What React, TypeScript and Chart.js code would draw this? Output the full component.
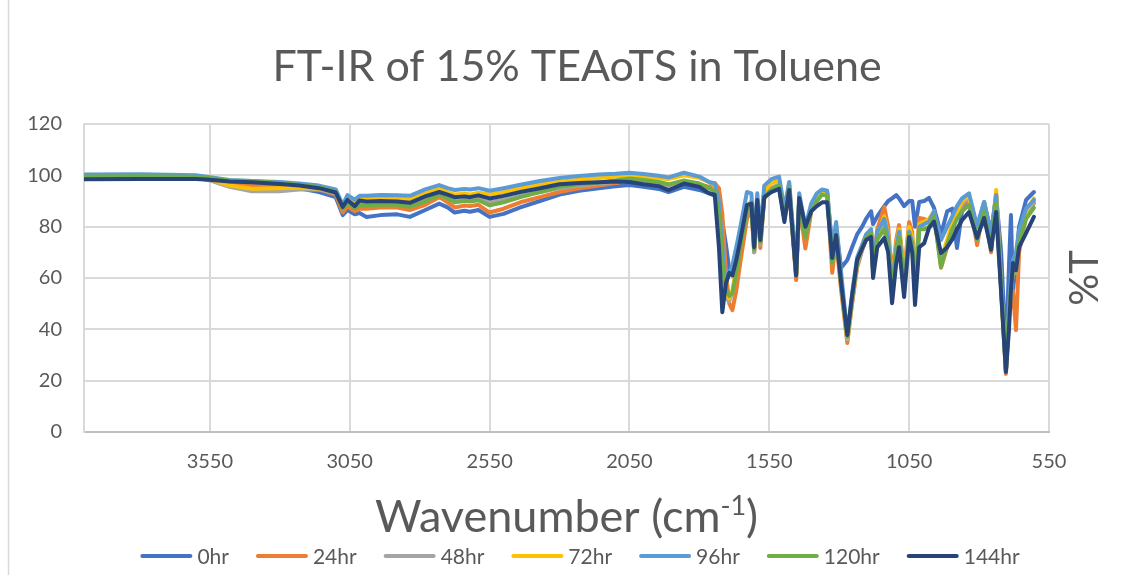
import React, { useEffect, useRef } from 'react';
import { Chart, registerables } from 'chart.js';

Chart.register(...registerables);

const TITLE = 'FT-IR of 15% TEAoTS in Toluene';
const X_TITLE_MAIN = 'Wavenumber (cm';
const X_TITLE_SUP = '-1';
const X_TITLE_END = ')';
const Y_TITLE = '%T';
const X_TICKS = [3550, 3050, 2550, 2050, 1550, 1050, 550];
const X_MIN = 550;
const X_MAX = 4000;
const Y_MIN = 0;
const Y_MAX = 120;
const Y_STEP = 20;

const SERIES_NAMES = ['0hr', '24hr', '48hr', '72hr', '96hr', '120hr', '144hr'];
const SERIES_COLORS = ['#4472C4', '#ED7D31', '#A5A5A5', '#FFC000', '#5B9BD5', '#70AD47', '#264478'];

const WAVENUMBERS = [
  4000, 3800, 3600, 3550, 3480, 3400, 3300, 3230, 3160, 3100,
  3075, 3058, 3032, 3015, 2990, 2940, 2880, 2835, 2780, 2730,
  2700, 2675, 2640, 2620, 2590, 2550, 2500, 2440, 2370, 2300,
  2230, 2160, 2100, 2050, 2000, 1945, 1910, 1855, 1800, 1765,
  1745, 1730, 1718, 1705, 1693, 1682, 1668, 1655, 1630, 1614,
  1604, 1593, 1582, 1568, 1543, 1515, 1496, 1479, 1454, 1443,
  1421, 1400, 1380, 1361, 1343, 1325, 1311, 1293, 1271, 1254,
  1236, 1218, 1204, 1186, 1179, 1164, 1139, 1125, 1111, 1096,
  1086, 1068, 1050, 1039, 1029, 1014, 996, 979, 961, 936,
  914, 896, 879, 861, 836, 807, 782, 757, 739, 721,
  704, 693, 686, 679, 668, 657, 632, 604,
];

const T_0HR = [
  99, 99, 99, 98.8, 97.5, 96.8, 96, 95, 93.5, 91.5,
  84.5, 86.5, 84.8, 85.3, 83.8, 84.5, 84.8, 83.8, 86.5, 89,
  87.5, 85.5, 86.2, 85.8, 86.5, 83.8, 85, 87.5, 90, 92.5,
  94, 95, 95.7, 96.2, 95.5, 94.7, 93.5, 95.5, 94.3, 93,
  92, 88, 82, 73, 63, 64, 70, 76, 86, 88,
  74, 90, 78, 92, 94, 95.5, 84, 95, 62, 90,
  78, 88, 91, 93.5, 93, 72, 78, 64, 67, 72,
  77, 80, 83, 86, 81, 84, 88, 90, 91, 92.3,
  91, 88, 90, 90, 80, 89.6, 90, 91.2, 87.3, 77,
  86, 87, 71.7, 86, 92, 80, 89.6, 77.5, 92, 70,
  30, 65, 84.5, 55, 66, 80, 90.4, 93.5,
];

const T_24HR = [
  99, 99, 99, 98.5, 97, 96, 95.5, 95, 94.5, 92.5,
  85.5, 88, 86, 87, 87, 87.5, 87.5, 86.5, 88.5, 91.5,
  89.5, 87.5, 88.2, 88, 88.5, 85.5, 87, 89.5, 91.5, 93.5,
  95, 96, 97, 98, 97.5, 96.5, 95.5, 97.5, 96.5, 95.5,
  97, 95, 85, 62, 50, 47.5, 55, 65, 83, 87,
  70, 89, 71.7, 91, 94.5, 96, 83, 95, 59.2, 89,
  71.5, 86, 90, 93, 93, 62, 75, 55, 34.7, 50,
  64, 71, 75, 78, 63, 79, 87.7, 80, 60, 75,
  80.6, 62, 81.8, 78, 58, 83.4, 83, 82, 85, 64,
  72, 79, 84, 88, 91, 72.8, 88, 70, 92, 55,
  22.6, 45, 50, 55, 39.7, 70, 84, 89,
];

const T_48HR = [
  99.5, 99.5, 99, 98, 95.5, 93.8, 93.8, 94.5, 94.5, 93,
  87.5, 89.5, 87.5, 89, 88.8, 89, 89, 88, 90.3, 92.5,
  91, 90, 90.5, 90.5, 91, 89.5, 90.5, 92, 93.5, 95,
  96, 96.8, 97.5, 98.2, 97.5, 96.8, 95.8, 97.5, 96.3, 95,
  94, 86, 65, 52, 51, 54, 63, 72, 86, 88,
  70, 90, 73, 92, 95, 96.5, 84, 96, 61, 91,
  76, 87, 91, 93.5, 93, 66, 78, 57, 36, 51,
  65, 71, 75, 77.5, 63, 77, 81, 76, 57, 72,
  78, 60, 79, 75, 56, 80, 81, 82, 85, 66,
  74, 80, 85, 89, 91.5, 75, 89, 72, 93, 56,
  23.5, 45, 55, 62, 62, 75, 85, 89.5,
];

const T_72HR = [
  99.5, 99.5, 99.3, 98.5, 96, 94.8, 95, 95.3, 94.8, 93.5,
  88, 91, 89, 91.2, 91.3, 91.5, 91.2, 90.5, 93, 95,
  93.5, 92.5, 92.8, 92.5, 93.2, 92.5, 93.5, 95, 96.5, 97.5,
  98.3, 99, 99.5, 100, 99.4, 99, 98.5, 100, 99, 97.3,
  96.5, 88, 68, 54, 52, 55, 64, 73, 88, 90,
  72, 91, 75, 94, 97, 98, 85, 97, 62, 92,
  78, 88, 92, 94, 93.5, 68, 80, 58, 36.6, 52,
  66, 72, 76, 78, 63, 77, 84, 77, 58, 73,
  79, 61, 80, 76, 57, 81, 82, 83, 86, 67,
  75, 81, 86, 90, 92, 76, 89.5, 73, 94.3, 57,
  24, 45, 55, 63, 64, 76, 86, 91,
];

const T_96HR = [
  100.3, 100.4, 100, 99.3, 98.2, 97.8, 97.4, 96.8, 96, 94.5,
  88.5, 92.3, 90.5, 92, 92, 92.3, 92.2, 92, 94.5, 96.2,
  95, 94.3, 94.7, 94.5, 95, 94, 95, 96.3, 97.8, 99,
  99.7, 100.3, 100.6, 101, 100.5, 99.8, 99.2, 101, 99.5, 97.4,
  96.8, 90, 72, 58, 62, 65, 72, 79, 93.5, 93,
  73, 93, 78, 96, 98.5, 99.5, 87, 97.4, 64, 93,
  80, 89, 93, 94.5, 94, 71, 81.8, 62, 38, 54,
  68, 73, 77, 79, 64, 78, 83, 76, 56.5, 72,
  78, 58, 78, 74, 55, 80, 81, 82, 86, 74.8,
  80, 84, 88, 91, 93, 80, 89.6, 77.5, 92.3, 58,
  24, 50, 60, 67, 70, 78.7, 87, 90.4,
];

const T_120HR = [
  99.5, 99.6, 99.4, 99, 98, 97.8, 97, 96.2, 95.5, 93.5,
  87, 89, 87.2, 88.3, 88.2, 88.5, 88.5, 87.8, 89.8, 92.5,
  91, 89.5, 90, 89.8, 90.3, 88.3, 89.5, 91.5, 93.5, 95.5,
  96.5, 97.2, 98, 98.8, 98.2, 97.4, 96.5, 98, 96.8, 95,
  94, 85, 66, 56, 53, 54, 62, 71, 86, 88,
  71, 89, 74, 91, 94.5, 96, 83, 95, 61, 89,
  76, 86, 90, 92.5, 92, 66, 77, 57, 37, 52,
  66, 72, 75.5, 77.5, 62, 75, 79, 72, 56.5, 70,
  76, 57, 77, 72, 54, 79, 79, 80, 84, 64.3,
  73, 79, 83, 86, 88.4, 75, 86, 71, 89, 56,
  24, 47, 56, 62, 66, 74, 83, 87.3,
];

const T_144HR = [
  98.5, 98.6, 98.6, 98.3, 97.6, 97.3, 96.6, 96, 95, 93.3,
  87.7, 90.4, 88, 90.2, 89.8, 90, 89.8, 89.3, 91.8, 93.5,
  92.5, 91.5, 91.8, 91.5, 92.2, 91, 92, 93.5, 95, 96.5,
  97, 97.3, 97.6, 97.4, 96.5, 95.8, 94.2, 96.8, 95.5, 93,
  92.5, 72, 46.7, 58, 62, 61, 67, 74, 88.4, 89,
  72, 90.4, 74.8, 91.5, 93.5, 94.7, 81.8, 94.3, 61, 91.2,
  80, 86, 88, 89.5, 89.5, 67.8, 76.7, 58, 37.8, 53,
  67, 71.5, 74.8, 76, 60, 72, 75.6, 70, 50.2, 66,
  72, 52.6, 76, 70, 49.5, 72, 73.6, 79.5, 82, 69.7,
  72, 75, 79, 82.5, 85.7, 75.6, 83.4, 71, 85.7, 54,
  23.4, 40, 55.3, 65.8, 63, 72, 77.5, 83.8,
];

const SERIES_VALUES = [T_0HR, T_24HR, T_48HR, T_72HR, T_96HR, T_120HR, T_144HR];

const FONT = 'Lato, "Open Sans", sans-serif';
const TEXT_COLOR = '#595959';
const GRID_COLOR = '#D9D9D9';
const LINE_WIDTH = 4;

const decorPlugin = {
  id: 'decor',
  beforeDraw(chart: any) {
    const ctx = chart.ctx;
    ctx.save();
    ctx.fillStyle = '#FFFFFF';
    ctx.fillRect(0, 0, chart.width, chart.height);
    ctx.strokeStyle = GRID_COLOR;
    ctx.lineWidth = 1.5;
    ctx.beginPath();
    ctx.moveTo(8.5, 0);
    ctx.lineTo(8.5, chart.height);
    ctx.stroke();
    ctx.restore();
  },
  afterDraw(chart: any) {
    const ctx = chart.ctx;
    const area = chart.chartArea;
    ctx.save();
    ctx.fillStyle = TEXT_COLOR;

    // Title
    ctx.font = `43px ${FONT}`;
    ctx.textAlign = 'center';
    ctx.textBaseline = 'alphabetic';
    ctx.fillText(TITLE, 577, 81);

    // X axis title with superscript
    const mainFont = `45px ${FONT}`;
    const supFont = `27px ${FONT}`;
    ctx.font = mainFont;
    const wMain = ctx.measureText(X_TITLE_MAIN).width;
    const wEnd = ctx.measureText(X_TITLE_END).width;
    ctx.font = supFont;
    const wSup = ctx.measureText(X_TITLE_SUP).width;
    const total = wMain + wSup + wEnd;
    const cx = (area.left + area.right) / 2;
    let x = cx - total / 2;
    const base = 532;
    ctx.textAlign = 'left';
    ctx.font = mainFont;
    ctx.fillText(X_TITLE_MAIN, x, base);
    x += wMain;
    ctx.font = supFont;
    ctx.fillText(X_TITLE_SUP, x, base - 17);
    x += wSup;
    ctx.font = mainFont;
    ctx.fillText(X_TITLE_END, x, base);

    // Right-side Y title
    ctx.save();
    ctx.translate(1085, (area.top + area.bottom) / 2);
    ctx.rotate(-Math.PI / 2);
    ctx.font = `40px ${FONT}`;
    ctx.textAlign = 'center';
    ctx.textBaseline = 'middle';
    ctx.fillText(Y_TITLE, 0, 0);
    ctx.restore();

    // Legend
    const lineLen = 52;
    const gapLT = 5;
    const gapItem = 27;
    ctx.font = `21px ${FONT}`;
    const widths = chart.data.datasets.map((d: any) => ctx.measureText(d.label).width);
    const legendTotal = widths.reduce((s: number, w: number) => s + lineLen + gapLT + w, 0) + gapItem * (widths.length - 1);
    let lx = 580 - legendTotal / 2;
    const ly = 556;
    chart.data.datasets.forEach((d: any, i: number) => {
      ctx.strokeStyle = d.borderColor;
      ctx.lineWidth = LINE_WIDTH;
      ctx.lineCap = 'round';
      ctx.beginPath();
      ctx.moveTo(lx + 2, ly);
      ctx.lineTo(lx + lineLen - 2, ly);
      ctx.stroke();
      ctx.fillStyle = TEXT_COLOR;
      ctx.textAlign = 'left';
      ctx.textBaseline = 'middle';
      ctx.fillText(d.label, lx + lineLen + gapLT, ly + 1);
      lx += lineLen + gapLT + widths[i] + gapItem;
    });
    ctx.restore();
  },
};

export default function App() {
  const canvasRef = useRef<HTMLCanvasElement | null>(null);

  useEffect(() => {
    document.body.style.margin = '0';
    const canvas = canvasRef.current;
    if (!canvas) return;

    const datasets = SERIES_NAMES.map((name, i) => ({
      label: name,
      data: WAVENUMBERS.map((wn, j) => ({ x: wn, y: SERIES_VALUES[i][j] })),
      borderColor: SERIES_COLORS[i],
      backgroundColor: SERIES_COLORS[i],
      borderWidth: LINE_WIDTH,
      pointRadius: 0,
      pointHoverRadius: 0,
      tension: 0,
      borderJoinStyle: 'round' as const,
      borderCapStyle: 'round' as const,
      fill: false,
      order: SERIES_NAMES.length - 1 - i,
    }));

    const chart = new Chart(canvas, {
      type: 'line',
      data: { datasets },
      plugins: [decorPlugin],
      options: {
        animation: false,
        responsive: false,
        maintainAspectRatio: false,
        events: [],
        layout: { padding: { top: 124, right: 84, left: 0, bottom: 0 } },
        plugins: {
          legend: { display: false },
          title: { display: false },
          tooltip: { enabled: false },
        },
        scales: {
          x: {
            type: 'linear',
            reverse: true,
            min: X_MIN,
            max: X_MAX,
            afterFit: (scale: any) => {
              scale.height = 143;
            },
            afterBuildTicks: (scale: any) => {
              scale.ticks = X_TICKS.map((v) => ({ value: v }));
            },
            ticks: {
              autoSkip: false,
              maxRotation: 0,
              padding: 18,
              color: TEXT_COLOR,
              font: { family: FONT, size: 20 },
              callback: (v: any) => String(v),
            },
            grid: { color: GRID_COLOR, lineWidth: 2, drawTicks: false },
            border: { display: true, color: '#BFBFBF', width: 2 },
          },
          y: {
            type: 'linear',
            min: Y_MIN,
            max: Y_MAX,
            afterFit: (scale: any) => {
              scale.width = 84;
            },
            ticks: {
              stepSize: Y_STEP,
              padding: 22,
              color: TEXT_COLOR,
              font: { family: FONT, size: 20 },
            },
            grid: { color: GRID_COLOR, lineWidth: 2, drawTicks: false },
            border: { display: true, color: GRID_COLOR, width: 2 },
          },
        },
      },
    });

    return () => {
      chart.destroy();
    };
  }, []);

  return (
    <div style={{ width: 1133, height: 575 }}>
      <canvas ref={canvasRef} width={1133} height={575} style={{ width: 1133, height: 575, display: 'block' }} />
    </div>
  );
}
